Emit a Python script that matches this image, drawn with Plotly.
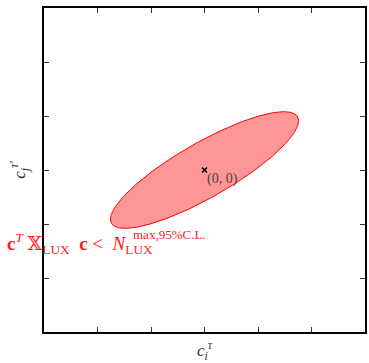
import numpy as np
import plotly.graph_objects as go

# Ellipse (allowed region) parameters, in axis units
ellipse_center = [0.0, 0.0]
semi_major = 2.0
semi_minor = 0.51
tilt_deg = 29.5

# Marker at origin
point_x = [0.0]
point_y = [0.0]
point_label = ["(0, 0)"]

tick_vals = [-2, -1, 0, 1, 2]
axis_range = [-3, 3]

t = np.linspace(0, 2 * np.pi, 361)
th = np.deg2rad(tilt_deg)
ex = ellipse_center[0] + semi_major * np.cos(th) * np.cos(t) - semi_minor * np.sin(th) * np.sin(t)
ey = ellipse_center[1] + semi_major * np.sin(th) * np.cos(t) + semi_minor * np.cos(th) * np.sin(t)

fig = go.Figure()
fig.add_trace(go.Scatter(x=ex, y=ey, mode="lines", fill="toself",
                         fillcolor="rgba(255,0,0,0.41)",
                         line=dict(color="red", width=1), hoverinfo="skip"))
fig.add_trace(go.Scatter(x=point_x, y=point_y, mode="markers",
                         marker=dict(symbol="x-thin", size=5, line=dict(color="black", width=1.5))))

serif = "Liberation Serif, DejaVu Serif, serif"
fig.add_annotation(x=point_x[0], y=point_y[0], text=point_label[0], showarrow=False,
                   xanchor="left", yanchor="top", xshift=0, yshift=1,
                   font=dict(family=serif, size=14, color="#444"))

red = "#ff1a1a"
fig.add_annotation(xref="paper", yref="paper", x=-0.122, y=0.272, xanchor="left", yanchor="middle",
                   showarrow=False,
                   text="<b>c</b><sup><i>T</i></sup>&nbsp;𝕏<sub>LUX</sub>&nbsp;&nbsp;<b>c</b>&nbsp;&lt;&nbsp;&nbsp;<i>N</i><sub>LUX</sub>",
                   font=dict(family=serif, size=19, color=red))
fig.add_annotation(xref="paper", yref="paper", x=0.27, y=0.3, xanchor="left", yanchor="middle",
                   showarrow=False, text="max,95%C.L.",
                   font=dict(family=serif, size=13, color=red))

axis_common = dict(range=axis_range, tickvals=tick_vals, showticklabels=False,
                   ticks="inside", ticklen=5, tickwidth=1, tickcolor="#333",
                   showline=True, linecolor="black", linewidth=1.5, mirror="ticks",
                   showgrid=False, zeroline=False, fixedrange=True)
fig.update_xaxes(**axis_common,
                 title=dict(text="<i>c</i><sub><i>i</i></sub><sup><i>τ</i></sup>",
                            font=dict(family=serif, size=17, color="#333"), standoff=12))
fig.update_yaxes(**axis_common,
                 title=dict(text="<i>c</i><sub><i>j</i></sub><sup><i>τ′</i></sup>",
                            font=dict(family=serif, size=17, color="#333"), standoff=12))

fig.update_layout(width=369, height=363, margin=dict(l=44, r=2, t=8, b=31),
                  plot_bgcolor="white", paper_bgcolor="white", showlegend=False)
fig.write_html("out.html")
